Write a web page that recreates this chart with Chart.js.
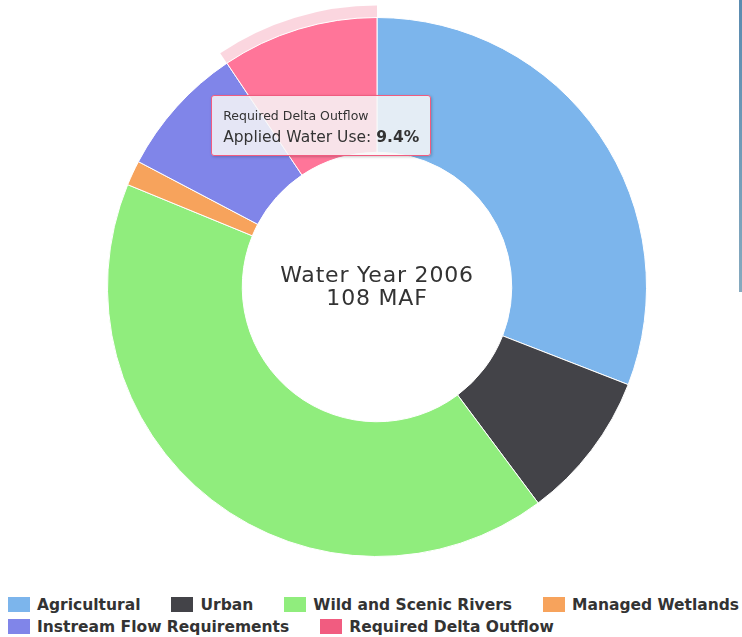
<!DOCTYPE html>
<html>
<head>
<meta charset="utf-8">
<script src="https://cdn.jsdelivr.net/npm/chart.js@4/dist/chart.umd.min.js"></script>
<style>
  html, body { margin: 0; padding: 0; background: #fff; overflow: hidden; width: 742px; height: 637px; }
  #wrap { position: absolute; left: 0; top: 0; width: 742px; height: 575px; }
  #sidebar { position: absolute; left: 739px; top: 0; width: 3px; height: 292px;
    background: linear-gradient(#5a8bb0, #86aabf); }
  #tip { position: absolute; display: none; box-sizing: border-box; white-space: nowrap;
    border: 1px solid #f15c80; border-radius: 3px; background: rgba(247,247,247,0.85);
    box-shadow: 1px 1px 3px rgba(0,0,0,0.22); padding: 11.5px 11px 8px 11px;
    font-family: "DejaVu Sans", sans-serif; color: #333; pointer-events: none; }
  #tip .t { font-size: 12.5px; line-height: 17px; margin-bottom: 2.5px; }
  #tip .b { font-size: 15.5px; line-height: 20px; }
  #legend { position: absolute; left: 8px; top: 594px; width: 780px;
    font-family: "DejaVu Sans", sans-serif; font-weight: bold; font-size: 15.5px; color: #333; }
  #legend .item { display: inline-block; white-space: nowrap; line-height: 22px; margin-right: 31px; }
  #legend .box { display: inline-block; width: 22px; height: 15px; vertical-align: -2px; margin-right: 7px; }
</style>
</head>
<body>
<div id="wrap"><canvas id="c"></canvas></div>
<div id="sidebar"></div>
<div id="tip"></div>
<div id="legend"></div>
<script>
// ---- data ----
const categories = ["Agricultural", "Urban", "Wild and Scenic Rivers", "Managed Wetlands", "Instream Flow Requirements", "Required Delta Outflow"];
const appliedWaterShare = [30.9, 8.9, 41.4, 1.5, 7.9, 9.4]; // percent of applied water use
const centerLabel = ["Water Year 2006", "108 MAF"];
const seriesName = "Applied Water Use";
const highlightedIndex = 5;
// ---- styles ----
const colors = ["#7cb5ec", "#434348", "#90ed7d", "#f7a35c", "#8085e9", "#f15c80"];
const hoverColors = ["#89c2f9", "#505055", "#9dfa8a", "#ffb069", "#8d92f6", "#ff7599"];

const centerTextPlugin = {
  id: 'centerText',
  afterDatasetsDraw(chart) {
    const arc = chart.getDatasetMeta(0).data[0];
    if (!arc) return;
    const ctx = chart.ctx;
    ctx.save();
    ctx.fillStyle = '#333';
    ctx.font = '22px "DejaVu Sans", sans-serif';
    if ('letterSpacing' in ctx) ctx.letterSpacing = '0.8px';
    ctx.textAlign = 'center';
    ctx.textBaseline = 'alphabetic';
    ctx.fillText(centerLabel[0], arc.x, arc.y - 5);
    ctx.fillText(centerLabel[1], arc.x, arc.y + 18);
    ctx.restore();
  }
};

const haloPlugin = {
  id: 'halo',
  beforeDatasetsDraw(chart) {
    const active = chart.getActiveElements();
    const ctx = chart.ctx;
    active.forEach(a => {
      const el = a.element;
      const p = el.getProps(['x', 'y', 'startAngle', 'endAngle', 'outerRadius'], true);
      ctx.save();
      ctx.beginPath();
      ctx.arc(p.x, p.y, p.outerRadius + 12, p.startAngle, p.endAngle);
      ctx.arc(p.x, p.y, p.outerRadius, p.endAngle, p.startAngle, true);
      ctx.closePath();
      ctx.fillStyle = 'rgba(241,92,128,0.25)';
      ctx.fill();
      ctx.restore();
    });
  }
};

function externalTooltip(context) {
  const tip = document.getElementById('tip');
  const tt = context.tooltip;
  if (!tt || tt.opacity === 0 || !tt.dataPoints || !tt.dataPoints.length) { tip.style.display = 'none'; return; }
  const dp = tt.dataPoints[0];
  tip.innerHTML = '<div class="t">' + categories[dp.dataIndex] + '</div>' +
    '<div class="b">' + seriesName + ': <b>' + appliedWaterShare[dp.dataIndex].toFixed(1) + '%</b></div>';
  tip.style.display = 'block';
  const w = tip.offsetWidth;
  tip.style.left = (tt.caretX - w / 2 + 3) + 'px';
  tip.style.top = (tt.caretY + 1) + 'px';
}

const chart = new Chart(document.getElementById('c'), {
  type: 'doughnut',
  data: {
    labels: categories,
    datasets: [{
      label: seriesName,
      data: appliedWaterShare,
      backgroundColor: colors,
      hoverBackgroundColor: hoverColors,
      borderColor: '#ffffff',
      hoverBorderColor: '#ffffff',
      borderWidth: 1,
      hoverBorderWidth: 1,
      hoverOffset: 0
    }]
  },
  options: {
    responsive: true,
    maintainAspectRatio: false,
    animation: false,
    events: [],
    cutout: '50%',
    layout: { padding: { top: 17, bottom: 18, left: 12, right: 0 } },
    plugins: {
      legend: { display: false },
      tooltip: { enabled: false, external: externalTooltip, position: 'average' }
    }
  },
  plugins: [haloPlugin, centerTextPlugin]
});

// HTML legend built from the chart's own legend items
const legendEl = document.getElementById('legend');
chart.options.plugins.legend.labels.generateLabels(chart).forEach(item => {
  const d = document.createElement('span');
  d.className = 'item';
  const b = document.createElement('span');
  b.className = 'box';
  b.style.background = item.fillStyle;
  d.appendChild(b);
  d.appendChild(document.createTextNode(item.text));
  legendEl.appendChild(d);
});

const act = [{ datasetIndex: 0, index: highlightedIndex }];
chart.setActiveElements(act);
chart.tooltip.setActiveElements(act, { x: 0, y: 0 });
chart.update();
</script>
</body>
</html>
